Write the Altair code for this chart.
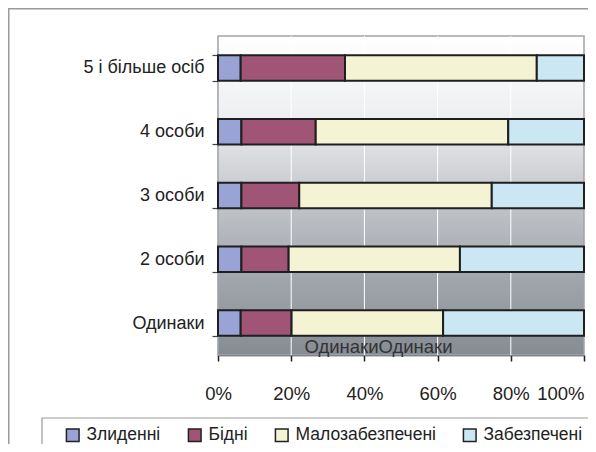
import altair as alt
import pandas as pd

categories = ["5 і більше осіб", "4 особи", "3 особи", "2 особи", "Одинаки"]
series = ["Злиденні", "Бідні", "Малозабезпечені", "Забезпечені"]
zlydenni = [6.2, 6.4, 6.4, 6.4, 6.2]
bidni = [28.5, 20.3, 15.8, 12.9, 13.9]
malo = [52.4, 52.6, 52.6, 46.8, 41.4]
zabezp = [12.9, 20.7, 25.2, 33.9, 38.5]
colors = ["#99a3d6", "#a05577", "#f4f3d4", "#cae7f3"]
x_ticks = [0, 20, 40, 60, 80, 100]
grid_ticks = [20, 40, 60, 80]
stray_label = "ОдинакиОдинаки"

W, H = 366, 319
FONT = "Liberation Sans"

rows = []
for i, cat in enumerate(categories):
    for j, (s, vals) in enumerate(zip(series, [zlydenni, bidni, malo, zabezp])):
        rows.append({"cat": cat, "series": s, "value": vals[i], "idx": j})
df = pd.DataFrame(rows)

xscale = alt.Scale(domain=[0, 100], nice=False)

bg = alt.Chart(alt.Data(values=[{}])).mark_rect(
    fill=alt.LinearGradient(
        gradient="linear", x1=0, x2=0, y1=0, y2=1,
        stops=[
            alt.GradientStop(color="#ffffff", offset=0),
            alt.GradientStop(color="#eeeff1", offset=0.25),
            alt.GradientStop(color="#c4c7cc", offset=0.5),
            alt.GradientStop(color="#a2a7ad", offset=0.75),
            alt.GradientStop(color="#868c94", offset=1),
        ],
    ),
    stroke="#a0a4a9", strokeWidth=1.5,
).encode(x=alt.value(0), x2=alt.value(W), y=alt.value(0), y2=alt.value(H))

grid = alt.Chart(pd.DataFrame({"v": grid_ticks})).mark_rule(
    color="white", strokeWidth=1
).encode(
    x=alt.X("v:Q", scale=xscale, title=None),
    y=alt.value(0), y2=alt.value(H),
)

bars = alt.Chart(df).mark_bar(stroke="#1f1f1f", strokeWidth=2).encode(
    x=alt.X("value:Q", stack="zero", scale=xscale, title=None,
            axis=alt.Axis(values=x_ticks, labelExpr="datum.value + '%'", grid=False,
                          domainColor="#222", domainWidth=1.5, tickColor="#222", tickWidth=1.5,
                          tickSize=6, labelFontSize=18.5, labelPadding=23,
                          labelFlush=False,
                          labelAlign={"condition": {"test": "datum.value == 100", "value": "right"},
                                      "value": "center"},
                          labelColor="#222", labelFont=FONT, labelOverlap=False)),
    y=alt.Y("cat:N", sort=categories, title=None,
            scale=alt.Scale(paddingInner=0.6, paddingOuter=0.3),
            axis=alt.Axis(tickBand="extent", domainColor="#9a9ea4", domainWidth=1.5,
                          tickColor="#444", tickWidth=1.2, tickSize=6,
                          labelFontSize=18, labelPadding=8, labelColor="#222",
                          labelFont=FONT, grid=False)),
    color=alt.Color("series:N", scale=alt.Scale(domain=series, range=colors),
                    legend=alt.Legend(orient="none", legendX=-154, legendY=390,
                                      direction="horizontal", title=None,
                                      symbolType="square", symbolSize=160,
                                      symbolStrokeColor="#222", symbolStrokeWidth=1.5,
                                      labelFontSize=17.5, labelFont=FONT, labelColor="#222",
                                      padding=0, columnPadding=24, labelOffset=5,
                                      labelLimit=400)),
    order=alt.Order("idx:Q"),
)

stray = alt.Chart(alt.Data(values=[{}])).mark_text(
    text=stray_label, fontSize=18.5, color="#333333", font=FONT
).encode(x=alt.value(378.5 - 218), y=alt.value(347 - 36))

frame = alt.Chart(alt.Data(values=[{}])).mark_rect(
    fillOpacity=0, stroke="#9a9a9a", strokeWidth=1.5
).encode(x=alt.value(-209.25), x2=alt.value(W + 40), y=alt.value(-27.25), y2=alt.value(H + 200))

legend_box = alt.Chart(alt.Data(values=[{}])).mark_rect(
    fillOpacity=0, stroke="#999999", strokeWidth=1.2
).encode(x=alt.value(42 - 218), x2=alt.value(W + 40), y=alt.value(418 - 36), y2=alt.value(H + 200))

chart = alt.layer(bg, grid, bars, stray, frame, legend_box).properties(
    width=W, height=H,
    autosize=alt.AutoSizeParams(type="none"),
    padding={"left": 210, "top": 28, "right": 4, "bottom": 89},
).configure(font=FONT).configure_view(strokeWidth=0)

chart.save("out.html", embed_options={"renderer": "svg", "actions": False})
